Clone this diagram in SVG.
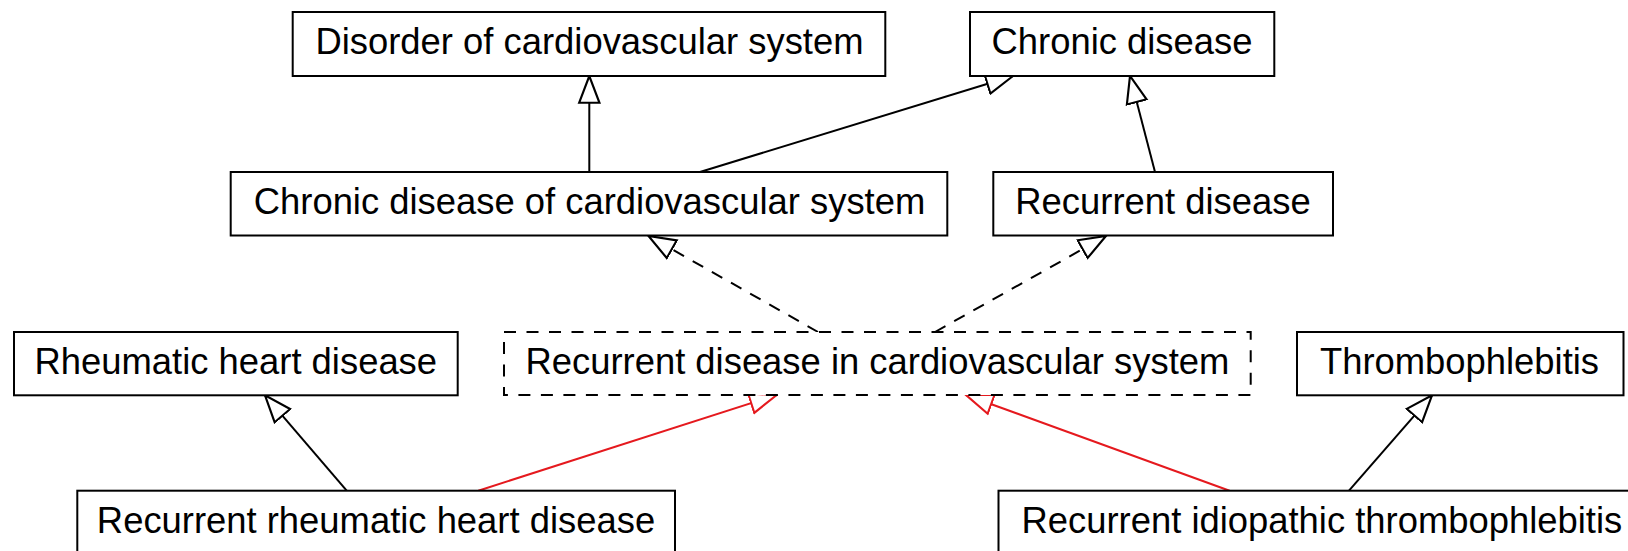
<svg xmlns="http://www.w3.org/2000/svg" width="1628" height="551" viewBox="0 0 1628 551">
  <style>
    .box { fill: #ffffff; stroke: #000000; stroke-width: 2; }
    .dbox { fill: #ffffff; stroke: #000000; stroke-width: 2; stroke-dasharray: 12 10.5; }
    .lbl { font-family: "Liberation Sans", Arial, sans-serif; font-size: 36.4px; fill: #000000; text-anchor: middle; }
    .edge { fill: none; stroke: #000000; stroke-width: 2; }
    .dashed { stroke-dasharray: 12 10; }
    .red { fill: none; stroke: #e5191e; stroke-width: 2; }
  </style>
  <defs>
    <marker id="tri" markerUnits="userSpaceOnUse" markerWidth="30" markerHeight="24" viewBox="-1 -11 28 22" refX="25" refY="0" orient="auto">
      <path d="M0,-9.5 L25,0 L0,9.5 Z" fill="#ffffff" stroke="#000000" stroke-width="2" stroke-dasharray="none" stroke-linejoin="miter"/>
    </marker>
    <marker id="triRed" markerUnits="userSpaceOnUse" markerWidth="30" markerHeight="24" viewBox="-1 -11 28 22" refX="25" refY="0" orient="auto">
      <path d="M0,-9.5 L25,0 L0,9.5 Z" fill="#ffffff" stroke="#e5191e" stroke-width="2" stroke-dasharray="none" stroke-linejoin="miter"/>
    </marker>
  </defs>

  <g id="connectors">
    <line class="edge" x1="589.3" y1="172" x2="589.3" y2="76" marker-end="url(#tri)"/>
    <line class="edge" x1="700" y1="172" x2="1013" y2="76" marker-end="url(#tri)"/>
    <line class="edge" x1="1155" y1="172" x2="1130" y2="76" marker-end="url(#tri)"/>
    <line class="edge dashed" x1="818" y1="332" x2="648.5" y2="236" marker-end="url(#tri)"/>
    <line class="edge dashed" x1="935" y1="332" x2="1106" y2="236" marker-end="url(#tri)"/>
    <line class="edge" x1="346.7" y1="490.7" x2="265" y2="395.3" marker-end="url(#tri)"/>
    <line class="edge" x1="1349" y1="490.7" x2="1432" y2="395.3" marker-end="url(#tri)"/>
    <line class="red" x1="478.3" y1="490.7" x2="776.7" y2="395" marker-end="url(#triRed)"/>
    <line class="red" x1="1229.6" y1="490.7" x2="966" y2="395" marker-end="url(#triRed)"/>
  </g>

  <g id="node-disorder">
    <rect class="box" x="292.7" y="12" width="592.6" height="64"/>
    <text class="lbl" x="589.5" y="54.3">Disorder of cardiovascular system</text>
  </g>
  <g id="node-chronic">
    <rect class="box" x="970" y="12" width="304.3" height="64"/>
    <text class="lbl" x="1122" y="54.3">Chronic disease</text>
  </g>
  <g id="node-chronic-cvs">
    <rect class="box" x="230.7" y="172" width="716.6" height="63.5"/>
    <text class="lbl" x="589.5" y="214">Chronic disease of cardiovascular system</text>
  </g>
  <g id="node-recurrent">
    <rect class="box" x="993.3" y="172" width="339.7" height="63.5"/>
    <text class="lbl" x="1163" y="214">Recurrent disease</text>
  </g>
  <g id="node-rheumatic">
    <rect class="box" x="14" y="332" width="443.7" height="63.3"/>
    <text class="lbl" x="235.8" y="374">Rheumatic heart disease</text>
  </g>
  <g id="node-recurrent-cvs">
    <rect class="dbox" x="504" y="332" width="746.7" height="63"/>
    <text class="lbl" x="877.4" y="374">Recurrent disease in cardiovascular system</text>
  </g>
  <g id="node-thrombophlebitis">
    <rect class="box" x="1297" y="332" width="326.5" height="63.3"/>
    <text class="lbl" x="1459.5" y="374">Thrombophlebitis</text>
  </g>
  <g id="node-recurrent-rheumatic">
    <rect class="box" x="77.3" y="490.7" width="597.7" height="70"/>
    <text class="lbl" x="376" y="533.3">Recurrent rheumatic heart disease</text>
  </g>
  <g id="node-recurrent-idiopathic">
    <rect class="box" x="998.5" y="490.7" width="650" height="70"/>
    <text class="lbl" x="1021.5" y="533.3" style="text-anchor:start">Recurrent idiopathic thrombophlebitis</text>
  </g>
</svg>
